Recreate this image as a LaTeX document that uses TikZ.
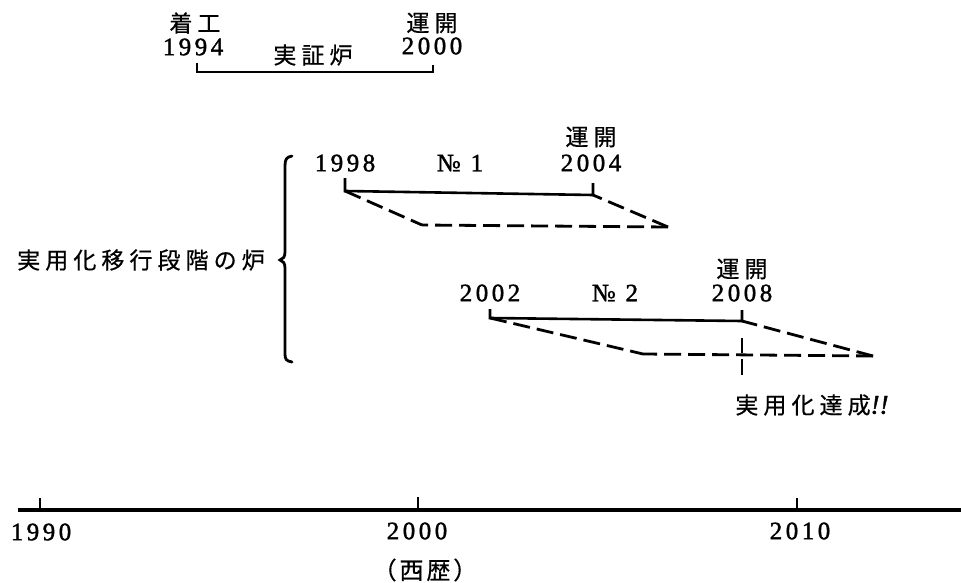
\documentclass[tikz,border=0pt]{standalone}
\usepackage{fontspec}
\newfontfamily\cjk[LetterSpace=22,FakeBold=0.6]{Noto Sans CJK JP}
\newfontfamily\cjkn[LetterSpace=12,FakeBold=0.6]{Noto Sans CJK JP}
\newfontfamily\dg[LetterSpace=14,FakeBold=1.6]{Liberation Serif}
\begin{document}
\begin{tikzpicture}[x=1pt,y=-1pt,
  lbl/.style={inner sep=0pt, font=\cjk\fontsize{23}{23}\selectfont},
  yr/.style={inner sep=0pt, font=\dg\fontsize{25}{25}\selectfont},
  solidln/.style={line width=2.6pt},
  dashln/.style={line width=2.8pt, dash pattern=on 17pt off 7pt},
  tickln/.style={line width=1.8pt},
  axisln/.style={line width=3.6pt}]
\useasboundingbox[fill=white] (0,0) rectangle (961,583);

% demonstration reactor
\node[lbl] (t94a) at (195,23) {着工};
\node[yr]  (t94)  at (193,47) {1994};
\node[lbl] (tsh)  at (313,55) {実証炉};
\node[lbl] (t00a) at (432,23) {運開};
\node[yr]  (t00)  at (432,46) {2000};
\coordinate (b1) at (197,63);
\coordinate (b2) at (197,72);
\coordinate (b3) at (433,72);
\coordinate (b4) at (433,65);
\draw[solidln] (b1) -- (b2) -- (b3) -- (b4);

% No.1
\node[yr]  (n1s) at (345,163) {1998};
\node[yr]  (n1n) at (460,163) {№ 1};
\node[lbl] (n1a) at (591,137) {運開};
\node[yr]  (n1e) at (591,163) {2004};
\coordinate (p1t) at (345,178);
\coordinate (p1) at (345,191);
\coordinate (p2) at (593,195);
\coordinate (p2t) at (593,183);
\coordinate (p3) at (668,227);
\coordinate (p4) at (422,225);
\draw[solidln] (p1t) -- (p1) -- (p2) -- (p2t);
\draw[dashln] (p1) -- (p4);
\draw[dashln] (p3) -- (p4);
\draw[dashln] (p3) -- (p2);

% No.2
\node[yr]  (n2s) at (490,293) {2002};
\node[yr]  (n2n) at (615,293) {№ 2};
\node[lbl] (n2a) at (742,269) {運開};
\node[yr]  (n2e) at (742,293) {2008};
\coordinate (q1t) at (490,309);
\coordinate (q1) at (490,318);
\coordinate (q2) at (742,321);
\coordinate (q2t) at (742,310);
\coordinate (q3) at (873,356);
\coordinate (q4) at (643,354);
\draw[solidln] (q1t) -- (q1) -- (q2) -- (q2t);
\draw[dashln] (q1) -- (q4);
\draw[dashln] (q3) -- (q4);
\draw[dashln] (q3) -- (q2);
\coordinate (m1) at (742,338);
\coordinate (m2) at (742,375);
\draw[line width=2.4pt, dash pattern=on 15pt off 6pt on 16pt] (m1) -- (m2);
\node[lbl] (goal) at (812,405) {実用化達成{\dg\itshape\addfontfeature{LetterSpace=0}\fontsize{27}{27}\selectfont !!}};

% brace
\node[lbl] (phase) at (141,260) {実用化移行段階の炉};
\draw[line width=2.8pt, line cap=round]
  (292,156) .. controls (286,157) and (285,160) .. (285,166) -- (285,252)
  .. controls (285,257) and (283,259) .. (280,260)
  .. controls (283,261) and (285,263) .. (285,268) -- (285,354)
  .. controls (285,359) and (286,361) .. (292,362);

% axis
\coordinate (ax0) at (18,510);
\coordinate (ax1) at (961,510);
\draw[axisln] (ax0) -- (ax1);
\coordinate (k1) at (40,498);
\coordinate (k1b) at (40,510);
\coordinate (k2) at (418,497);
\coordinate (k2b) at (418,510);
\coordinate (k3) at (797,498);
\coordinate (k3b) at (797,510);
\draw[tickln] (k1) -- (k1b);
\draw[tickln] (k2) -- (k2b);
\draw[tickln] (k3) -- (k3b);
\node[yr] (y90) at (41,532) {1990};
\node[yr] (y00) at (417,531) {2000};
\node[yr] (y10) at (800,531) {2010};
\node[inner sep=0pt, font=\cjkn\fontsize{24}{24}\selectfont] (era) at (425,570) {（西歴）};
\end{tikzpicture}
\end{document}
